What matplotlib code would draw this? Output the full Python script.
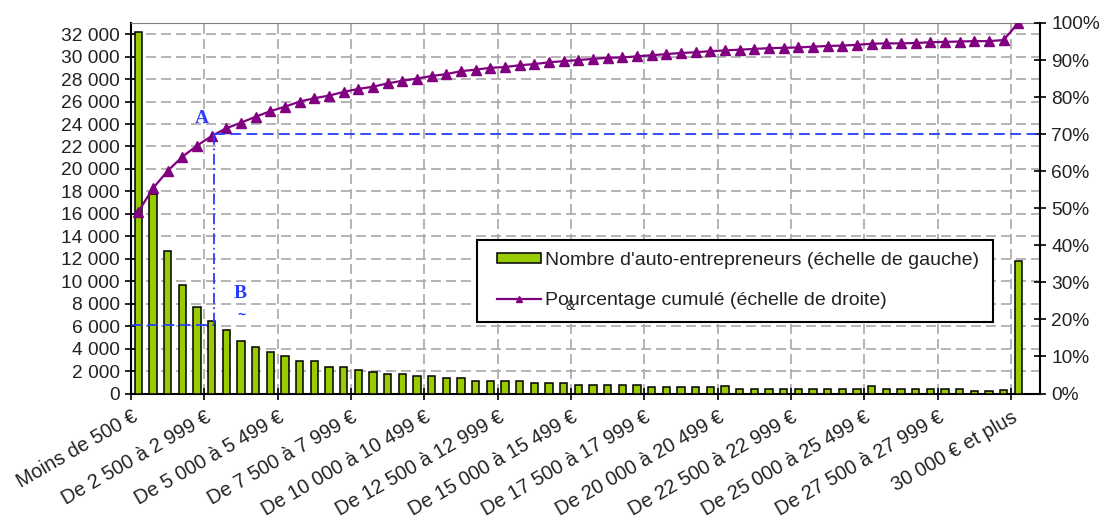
import matplotlib
matplotlib.use("Agg")
import matplotlib.pyplot as plt
from matplotlib.patches import Rectangle
from matplotlib.ticker import FixedLocator, FuncFormatter

plt.rcParams['font.family'] = ['Liberation Sans', 'DejaVu Sans']

# nombre d'auto-entrepreneurs par tranche de chiffre d'affaires (échelle de gauche)
nombre = [32200, 17800, 12700, 9700, 7700, 6500, 5700, 4700, 4100, 3700,
          3300, 2900, 2900, 2350, 2350, 2100, 1950, 1750, 1750, 1550,
          1600, 1350, 1350, 1100, 1150, 1100, 1150, 950, 950, 950,
          800, 800, 800, 800, 800, 620, 620, 620, 620, 620,
          650, 400, 400, 400, 400, 400, 400, 400, 400, 400,
          650, 400, 400, 400, 400, 400, 400, 220, 220, 280,
          11800]

# pourcentage cumulé (échelle de droite)
cumul = [49.1, 55.4, 60.1, 63.9, 66.9, 69.5, 71.6, 73.1, 74.7, 76.2,
         77.4, 78.8, 79.7, 80.4, 81.4, 82.2, 82.8, 83.7, 84.4, 85.0,
         85.7, 86.2, 87.0, 87.4, 87.9, 88.1, 88.6, 88.9, 89.4, 89.7,
         90.0, 90.3, 90.6, 90.7, 91.0, 91.3, 91.6, 91.9, 92.1, 92.4,
         92.6, 92.8, 93.0, 93.2, 93.3, 93.4, 93.6, 93.8, 93.9, 94.1,
         94.4, 94.5, 94.5, 94.6, 94.8, 94.9, 95.0, 95.1, 95.1, 95.4,
         100.0]

# étiquettes affichées (une tranche sur cinq)
tick_labels = ["Moins de 500 €", "De 2 500 à 2 999 €", "De 5 000 à 5 499 €",
               "De 7 500 à 7 999 €", "De 10 000 à 10 499 €", "De 12 500 à 12 999 €",
               "De 15 000 à 15 499 €", "De 17 500 à 17 999 €", "De 20 000 à 20 499 €",
               "De 22 500 à 22 999 €", "De 25 000 à 25 499 €", "De 27 500 à 27 999 €",
               "30 000 € et plus"]
label_step = 5

# repères A et B
a_cat = 5.15
a_pct = 70
b_value = 6100

left_max = 33000
blue = '#2a3cff'
grid_kw = dict(color='#a8a8a8', linestyle=(0, (6, 3)), linewidth=1.2)
W, H = 1105, 526

fig = plt.figure(figsize=(W / 100, H / 100), dpi=100)
ax = fig.add_axes([0.1186, 0.2519, 0.8228, 0.7044])
n = len(nombre)
xs = list(range(n))

ax.bar(xs, nombre, width=0.5, color='#99cc00', edgecolor='black', linewidth=1.1,
       zorder=3, label="Nombre d'auto-entrepreneurs (échelle de gauche)")
ax.set_xlim(-0.5, n + 0.5)
ax.set_ylim(0, left_max)
ax.yaxis.set_major_locator(FixedLocator(range(0, 32001, 2000)))
ax.yaxis.set_major_formatter(FuncFormatter(lambda v, p: f"{int(v):,}".replace(",", " ")))

tick_pos = [i - 0.5 for i in range(0, n, label_step)]
ax.set_xticks(tick_pos)
ax.set_xticklabels(tick_labels, rotation=30, ha='right', va='top',
                   rotation_mode='anchor', fontsize=14.3, color='#222222')
ax.tick_params(axis='x', direction='inout', length=8, width=1.2, pad=6)
ax.tick_params(axis='y', direction='inout', length=8, width=1.2, labelsize=13.8,
               labelcolor='#222222', pad=4)

for y in range(2000, 32001, 2000):
    ax.axhline(y, zorder=1, **grid_kw)
for xp in tick_pos[1:]:
    ax.axvline(xp, zorder=1, **grid_kw)

for side in ['left', 'bottom']:
    ax.spines[side].set_linewidth(1.5)
ax.spines['top'].set_color('#808080')
ax.spines['right'].set_visible(False)

ax2 = ax.twinx()
ax2.plot(xs, cumul, color='#800080', marker='^', markersize=6.5, linewidth=1.6,
         zorder=4, label="Pourcentage cumulé (échelle de droite)")
ax2.set_ylim(0, 100)
ax2.yaxis.set_major_locator(FixedLocator(range(0, 101, 10)))
ax2.yaxis.set_major_formatter(FuncFormatter(lambda v, p: f"{int(v)}%"))
ax2.tick_params(axis='y', direction='inout', length=8, width=1.2, labelsize=13.8,
                labelcolor='#222222', pad=4)
ax2.spines['right'].set_linewidth(1.5)
ax2.spines['top'].set_visible(False)
ax2.spines['left'].set_visible(False)
ax2.spines['bottom'].set_visible(False)

# lignes de lecture A / B
b_pct = b_value / left_max * 100
ax2.plot([a_cat, n + 0.5], [a_pct, a_pct], color=blue, linestyle=(0, (6, 3)),
         linewidth=1.3, zorder=5)
ax2.plot([a_cat, a_cat], [a_pct, b_pct], color=blue, linestyle=(0, (6, 2, 1, 2)),
         linewidth=1.3, zorder=5)
ax2.plot([-0.5, a_cat], [b_pct, b_pct], color=blue, linestyle=(0, (6, 3)),
         linewidth=1.3, zorder=5)
ax2.text(a_cat - 0.8, a_pct + 4.2, "A", color=blue, fontsize=14, fontweight='bold',
         family='Liberation Serif', ha='center', va='center')
ax2.text(a_cat + 1.8, (b_value + 2800) / left_max * 100, "B", color=blue, fontsize=14,
         fontweight='bold', family='Liberation Serif', ha='center', va='center')
ax2.text(a_cat + 1.9, (b_value + 900) / left_max * 100, "~", color=blue, fontsize=10,
         fontweight='bold', ha='center', va='center')

# légende : cadre dessiné à part, contenu placé dedans
fig.patches.append(Rectangle((477 / W, 1 - 322 / H), (993 - 477) / W, (322 - 240) / H,
                             transform=fig.transFigure, facecolor='white',
                             edgecolor='black', linewidth=1.5, zorder=8))
h1, l1 = ax.get_legend_handles_labels()
h2, l2 = ax2.get_legend_handles_labels()
leg = fig.legend(h1 + h2, l1 + l2, loc='upper left',
                 bbox_to_anchor=(497 / W, 1 - 252 / H), bbox_transform=fig.transFigure,
                 borderaxespad=0, borderpad=0, fontsize=14, frameon=False,
                 handlelength=2.27, handletextpad=0.2, labelspacing=1.2,
                 handleheight=0.45, markerscale=0.7)
leg.set_zorder(9)
for t in leg.get_texts():
    t.set_color('#222222')

fig.text(570 / W, 1 - 306 / H, "&", fontsize=10, color='#222222',
         ha='center', va='center', zorder=11)

fig.savefig("out.png", dpi=100)
